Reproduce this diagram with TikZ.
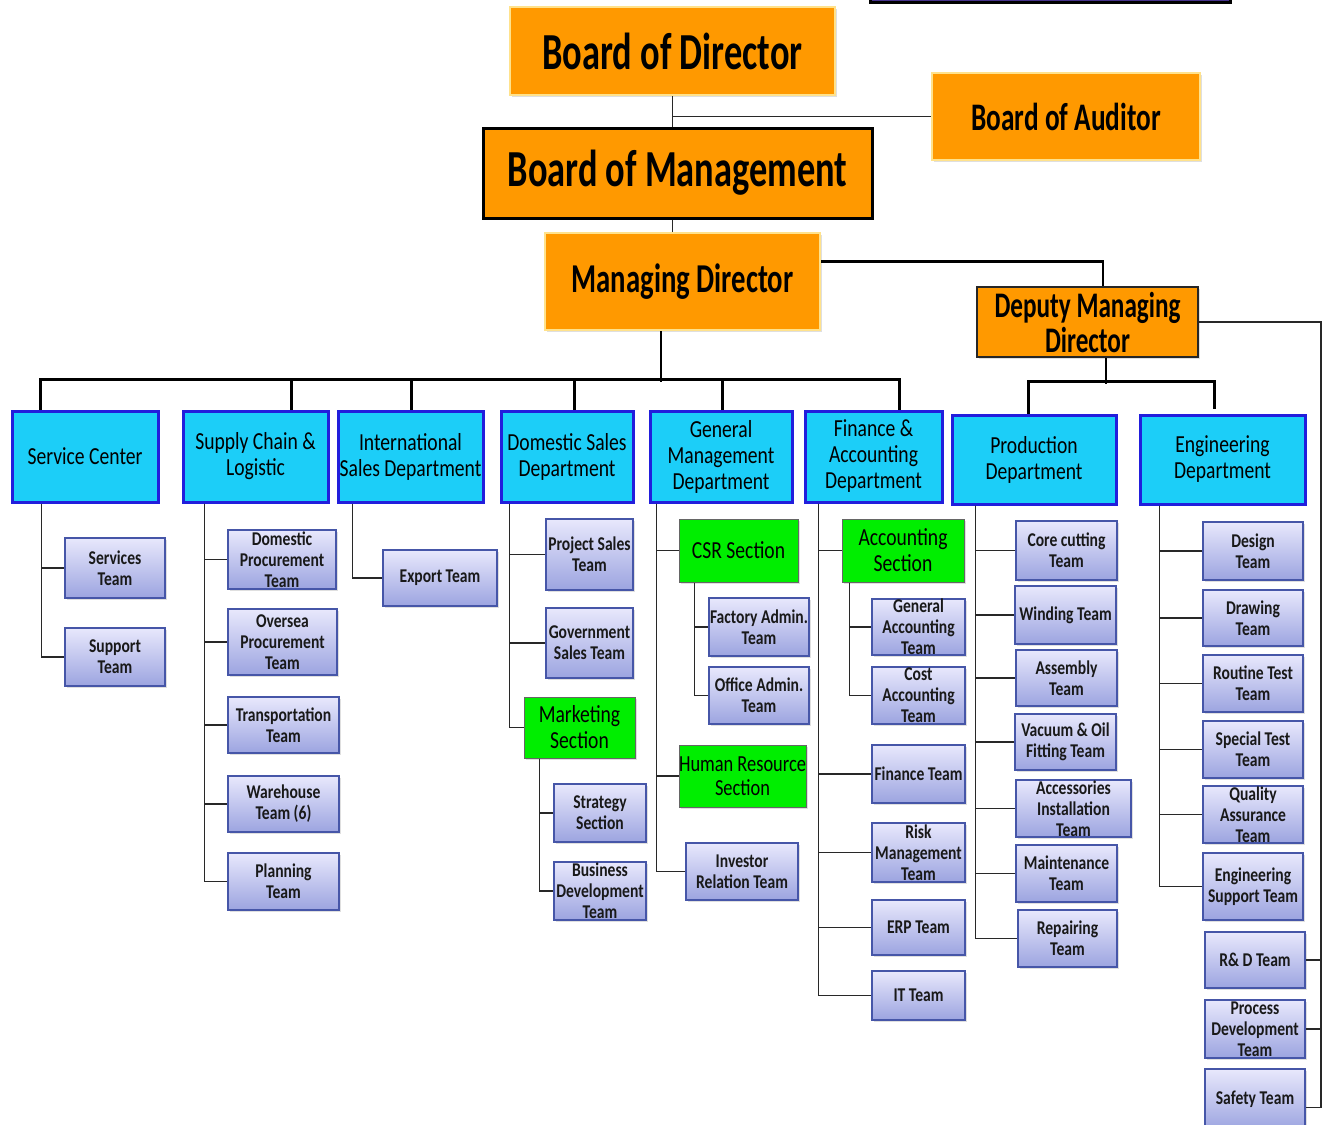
\documentclass[tikz,border=0pt]{standalone}
\usepackage{fontspec}
\setmainfont{Carlito}[FakeStretch=0.8]
\newfontfamily\headfont{Carlito}[FakeStretch=0.7]
\usetikzlibrary{positioning,shadows}

\definecolor{boardorange}{RGB}{255,153,0}
\definecolor{boardedge}{RGB}{255,226,140}
\definecolor{deptcyan}{RGB}{28,206,248}
\definecolor{deptedge}{RGB}{34,30,220}
\definecolor{secgreen}{RGB}{0,238,0}
\definecolor{teamtop}{RGB}{232,232,252}
\definecolor{teambottom}{RGB}{156,164,224}
\definecolor{teamedge}{RGB}{70,86,168}
\definecolor{linkgray}{RGB}{40,40,40}
\definecolor{topbox}{RGB}{70,50,140}

\tikzset{every picture/.style={
  >=latex                       % plain arrows, none drawn here.
  }
}

% Box from its corners: style, x1, y1, x2, y2, name, text.
\newcommand\ob[7]{\node[#1,minimum width={#4-#2},minimum height={#5-#3}]
  (#6) at ({(#2+#4)/2},{(#3+#5)/2}) {#7};}

\begin{document}
\begin{tikzpicture}[
        x=1pt,y=-1pt,
        box/.style={
          inner sep=0pt,
          align=center
        },
        board/.style={
          box,
          fill=boardorange,
          draw=boardedge,
          line width=2pt,
          drop shadow={opacity=0.25},
          font=\headfont\bfseries\fontsize{52}{56}\selectfont
        },
        dept/.style={
          box,
          fill=deptcyan,
          draw=deptedge,
          line width=3pt,
          drop shadow={opacity=0.25},
          font=\fontsize{24.5}{26}\selectfont
        },
        section/.style={
          box,
          fill=secgreen,
          draw=black!60,
          line width=1pt,
          drop shadow={opacity=0.25},
          font=\fontsize{24.5}{26}\selectfont
        },
        team/.style={
          box,
          top color=teamtop,
          bottom color=teambottom,
          draw=teamedge,
          line width=1.2pt,
          drop shadow={opacity=0.25},
          text=black!90,
          font=\bfseries\fontsize{19.5}{21}\selectfont
        },
        link/.style={draw=linkgray,line width=1.5pt},
        bus/.style={draw=black,line width=2.5pt}]

        \fill[white] (0,0) rectangle (1329,1124);
        \clip (0,0) rectangle (1329,1124);

        % The boards on top.
        \draw[line width=3pt,fill=topbox] (870,-30) rectangle (1230,3);
        \ob{board}{510}{7}{835}{95}{bod}{Board of Director}
        \ob{board,font=\headfont\bfseries\fontsize{39}{42}\selectfont}
          {932}{73}{1200}{160}{aud}{Board of Auditor}
        \ob{board,draw=black,line width=3pt}
          {483}{128}{872}{218}{bom}{Board of Management}
        \ob{board,font=\headfont\bfseries\fontsize{41}{44}\selectfont}
          {545}{233}{820}{330}{md}{Managing Director}
        \ob{board,draw=black!85,line width=2pt,
          font=\headfont\bfseries\fontsize{36}{35}\selectfont}
          {977}{287}{1198}{357}{dmd}{Deputy Managing\\Director}

        % Departments.
        \ob{dept}{12}{411}{158}{502}{sc}{Service Center}
        \ob{dept}{183}{411}{328}{502}{scl}{Supply Chain \&\\Logistic}
        \ob{dept}{338}{411}{483}{502}{isd}{International\\Sales Department}
        \ob{dept}{501}{411}{633}{502}{dsd}{Domestic Sales\\Department}
        \ob{dept}{650}{411}{792}{502}{gmd}{General\\Management\\Department}
        \ob{dept}{805}{411}{942}{502}{fad}{Finance \&\\Accounting\\Department}
        \ob{dept}{952}{415}{1116}{504}{prod}{Production\\Department}
        \ob{dept}{1140}{415}{1305}{504}{eng}{Engineering\\Department}

        % Sections.
        \ob{section}{524}{697}{635}{758}{mk}{Marketing\\Section}
        \ob{section}{679}{519}{798}{582}{csr}{CSR Section}
        \ob{section,font=\fontsize{23}{24}\selectfont}
          {679}{745}{806}{807}{hr}{Human Resource\\Section}
        \ob{section}{842}{519}{964}{582}{acs}{Accounting\\Section}

        % Teams.
        \ob{team}{65}{538}{165}{598}{svc}{Services\\Team}
        \ob{team}{65}{628}{165}{686}{sup}{Support\\Team}
        \ob{team}{228}{530}{336}{589}{dp}{Domestic\\Procurement\\Team}
        \ob{team}{228}{609}{337}{675}{op}{Oversea\\Procurement\\Team}
        \ob{team}{228}{697}{339}{753}{tr}{Transportation\\Team}
        \ob{team}{228}{776}{339}{832}{wh}{Warehouse\\Team (6)}
        \ob{team}{228}{853}{339}{910}{pl}{Planning\\Team}
        \ob{team}{383}{550}{497}{606}{ex}{Export Team}
        \ob{team}{546}{519}{633}{590}{ps}{Project Sales\\Team}
        \ob{team}{546}{608}{633}{678}{gs}{Government\\Sales Team}
        \ob{team}{554}{784}{646}{842}{st}{Strategy\\Section}
        \ob{team}{554}{862}{646}{920}{bd}{Business\\Development\\Team}
        \ob{team}{709}{598}{809}{656}{fa}{Factory Admin.\\Team}
        \ob{team}{709}{667}{809}{724}{oa}{Office Admin.\\Team}
        \ob{team}{686}{843}{798}{900}{ir}{Investor\\Relation Team}
        \ob{team}{872}{599}{965}{655}{ga}{General\\Accounting\\Team}
        \ob{team}{872}{667}{965}{724}{ca}{Cost\\Accounting\\Team}
        \ob{team}{872}{745}{965}{803}{ft}{Finance Team}
        \ob{team}{872}{823}{965}{882}{rm}{Risk\\Management\\Team}
        \ob{team}{872}{900}{965}{955}{erp}{ERP Team}
        \ob{team}{872}{971}{965}{1020}{it}{IT Team}
        \ob{team}{1016}{521}{1117}{580}{cc}{Core cutting\\Team}
        \ob{team}{1015}{586}{1116}{644}{wd}{Winding Team}
        \ob{team}{1016}{650}{1117}{706}{asm}{Assembly\\Team}
        \ob{team}{1015}{714}{1116}{770}{vo}{Vacuum \& Oil\\Fitting Team}
        \ob{team}{1016}{780}{1131}{837}{ai}{Accessories\\Installation\\Team}
        \ob{team}{1016}{845}{1117}{902}{mt}{Maintenance\\Team}
        \ob{team}{1018}{910}{1117}{967}{rp}{Repairing\\Team}
        \ob{team}{1203}{522}{1303}{580}{dsg}{Design\\Team}
        \ob{team}{1203}{590}{1303}{646}{drw}{Drawing\\Team}
        \ob{team}{1203}{655}{1303}{712}{rt}{Routine Test\\Team}
        \ob{team}{1203}{721}{1303}{778}{spt}{Special Test\\Team}
        \ob{team}{1203}{786}{1303}{843}{qa}{Quality\\Assurance\\Team}
        \ob{team}{1203}{853}{1303}{920}{es}{Engineering\\Support Team}
        \ob{team}{1205}{932}{1305}{988}{rnd}{R\& D Team}
        \ob{team}{1205}{1000}{1305}{1058}{proc}{Process\\Development\\Team}
        \ob{team}{1205}{1069}{1305}{1130}{safe}{Safety Team}

        % Board lines.
        \draw[link] (bod.south) -- (bod.south |- bom.north);
        \draw[link] (aud.west) -- (aud.west -| bod.south);
        \draw[link] (bod.south |- bom.south) -- (bod.south |- md.north);
        \draw[bus] ([yshift=20]md.east) -| ([xshift=127]dmd.north west);

        % Bus to the departments.
        \draw[bus] ([xshift=117]md.south west) -- ++(0,51);
        \draw[bus] ([xshift=30]sc.north west) -- ++(0,-30)
          -| ([xshift=96]fad.north west);
        \foreach \n/\s in {scl/110,isd/75,dsd/75,gmd/74}
          \draw[bus] ([xshift=\s]\n.north west) -- ++(0,-30);
        \draw[bus] ([xshift=130]dmd.south west) -- ++(0,26);
        \draw[bus] ([xshift=78]prod.north west) -- ++(0,-32)
          -| ([xshift=76,yshift=5]eng.north west);

        % Team lines.
        \foreach \n in {svc,sup}
          \draw[link] ([xshift=31]sc.south west) |- (\n.west);
        \foreach \n in {dp,op,tr,wh,pl}
          \draw[link] ([xshift=23]scl.south west) |- (\n.west);
        \draw[link] ([xshift=16]isd.south west) |- (ex.west);
        \foreach \n in {ps,gs,mk}
          \draw[link] ([xshift=10]dsd.south west) |- (\n.west);
        \foreach \n in {st,bd}
          \draw[link] ([xshift=16]mk.south west) |- (\n.west);
        \foreach \n in {csr,hr,ir}
          \draw[link] ([xshift=8]gmd.south west) |- (\n.west);
        \foreach \n in {fa,oa}
          \draw[link] ([xshift=16]csr.south west) |- (\n.west);
        \foreach \n in {acs,ft,rm,erp,it}
          \draw[link] ([xshift=15]fad.south west) |- (\n.west);
        \foreach \n in {ga,ca}
          \draw[link] ([xshift=8]acs.south west) |- (\n.west);
        \foreach \n in {cc,wd,asm,vo,ai,mt,rp}
          \draw[link] ([xshift=25]prod.south west) |- (\n.west);
        \foreach \n in {dsg,drw,rt,spt,qa,es}
          \draw[link] ([xshift=21]eng.south west) |- (\n.west);

        % Bracket from the deputy.
        \coordinate (brk) at (1321,0);
        \draw[link] (dmd.east) -- (dmd.east -| brk) |- ([yshift=-8]safe.east);
        \foreach \n in {rnd,proc}
          \draw[link] (\n.east) -- (\n.east -| brk);
      \end{tikzpicture}
\end{document}
